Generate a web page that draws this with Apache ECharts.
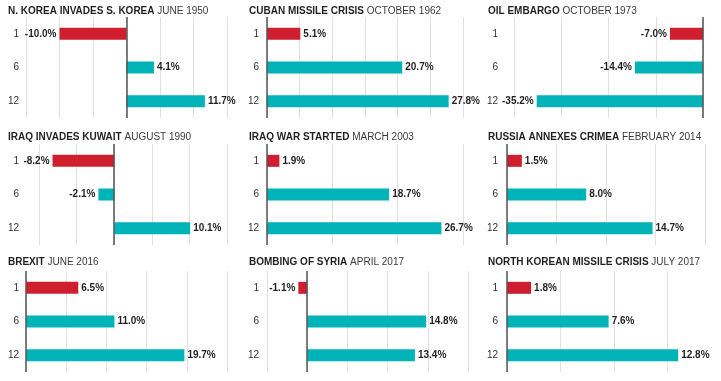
<!DOCTYPE html>
<html>
<head>
<meta charset="utf-8">
<script src="https://cdn.jsdelivr.net/npm/echarts@6/dist/echarts.min.js"></script>
<style>
html,body{margin:0;padding:0;background:#fff;}
#c{width:721px;height:381px;}
</style>
</head>
<body>
<div id="c"></div>
<script>
// ---- data ----
const categories = ['1', '6', '12'];
const eventNames = ['N. KOREA INVADES S. KOREA', 'CUBAN MISSILE CRISIS', 'OIL EMBARGO',
  'IRAQ INVADES KUWAIT', 'IRAQ WAR STARTED', 'RUSSIA ANNEXES CRIMEA',
  'BREXIT', 'BOMBING OF SYRIA', 'NORTH KOREAN MISSILE CRISIS'];
const eventDates = ['JUNE 1950', 'OCTOBER 1962', 'OCTOBER 1973',
  'AUGUST 1990', 'MARCH 2003', 'FEBRUARY 2014',
  'JUNE 2016', 'APRIL 2017', 'JULY 2017'];
const nKorea1950 = [-10.0, 4.1, 11.7];
const cuba1962 = [5.1, 20.7, 27.8];
const oil1973 = [-7.0, -14.4, -35.2];
const kuwait1990 = [-8.2, -2.1, 10.1];
const iraq2003 = [1.9, 18.7, 26.7];
const crimea2014 = [1.5, 8.0, 14.7];
const brexit2016 = [6.5, 11.0, 19.7];
const syria2017 = [-1.1, 14.8, 13.4];
const nkMissile2017 = [1.8, 7.6, 12.8];
const panelValues = [nKorea1950, cuba1962, oil1973, kuwait1990, iraq2003, crimea2014, brexit2016, syria2017, nkMissile2017];
// axis ranges per panel [min, max, interval]
const axisRanges = [[-15, 15, 5], [0, 30, 5], [-40, 0, 10], [-10, 15, 5], [0, 30, 10], [0, 20, 5], [0, 25, 5], [-5, 20, 5], [0, 16, 4]];

// ---- layout ----
const titleX = [8, 249, 488];
const labelRight = [19, 259, 498];
const titleY = [5, 131, 256];
const gridTop = [17, 144, 271];
const gridH = 101;
const gridLW = [[26, 201], [267, 196], [514, 189], [39, 188], [267, 196], [507, 198], [26, 201], [267, 201], [507, 217]];

const RED = '#CF1F2E';
const TEAL = '#00B3B9';
const FONT = 'Liberation Sans, Arial, sans-serif';

const option = {
  animation: false,
  backgroundColor: '#fff',
  title: [], grid: [], xAxis: [], yAxis: [], series: []
};

panelValues.forEach((vals, i) => {
  const r = Math.floor(i / 3), c = i % 3;
  const [gl, gw] = gridLW[i];
  const [mn, mx, iv] = axisRanges[i];
  option.title.push({
    left: titleX[c], top: titleY[r], padding: 0,
    text: '{b|' + eventNames[i] + '}{n| ' + eventDates[i] + '}',
    textStyle: {
      rich: {
        b: {fontFamily: FONT, fontWeight: 'bold', fontSize: 10, lineHeight: 12, color: '#231f20'},
        n: {fontFamily: FONT, fontWeight: 'normal', fontSize: 10, lineHeight: 12, color: '#3a3a3a'}
      }
    }
  });
  option.grid.push({left: gl, top: gridTop[r], width: gw, height: gridH, containLabel: false});
  option.xAxis.push({
    gridIndex: i, type: 'value', min: mn, max: mx, interval: iv,
    axisLabel: {show: false}, axisLine: {show: false}, axisTick: {show: false},
    splitLine: {show: true, lineStyle: {color: '#e0e0e0', width: 1}}
  });
  option.yAxis.push({
    gridIndex: i, type: 'category', data: categories, inverse: true,
    axisLine: {show: false}, axisTick: {show: false},
    axisLabel: {margin: gl - labelRight[c], fontFamily: FONT, fontSize: 10, color: '#333'}
  });
  option.series.push({
    type: 'bar', xAxisIndex: i, yAxisIndex: i, barWidth: 12,
    data: vals.map((v, k) => ({
      value: v,
      itemStyle: {color: k === 0 ? RED : TEAL},
      label: {
        show: true, position: v < 0 ? 'left' : 'right', distance: 3,
        formatter: p => p.value.toFixed(1) + '%',
        fontFamily: FONT, fontWeight: 'bold', fontSize: 10, color: '#231f20'
      }
    })),
    markLine: {
      silent: true, symbol: 'none', label: {show: false},
      lineStyle: {color: '#555', width: 1.5, type: 'solid'},
      data: [{xAxis: 0}]
    },
    z: 2
  });
});

const chart = echarts.init(document.getElementById('c'), null, {renderer: 'canvas'});
chart.setOption(option);
</script>
</body>
</html>
